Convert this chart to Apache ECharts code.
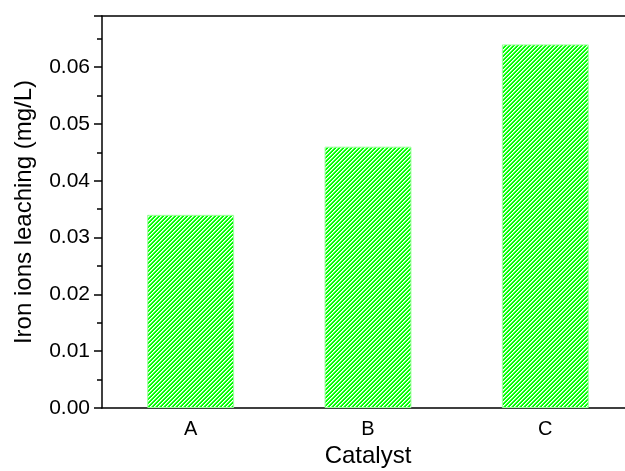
<!DOCTYPE html>
<html>
<head>
<meta charset="utf-8">
<script src="https://cdn.jsdelivr.net/npm/echarts@6/dist/echarts.min.js"></script>
<style>
html,body{margin:0;padding:0;background:#fff;}
#c{width:625px;height:471px;}
</style>
</head>
<body>
<div id="c"></div>
<script>
var categories = ['A', 'B', 'C'];
var leaching = [0.034, 0.046, 0.064];
var yTicks = [0, 0.01, 0.02, 0.03, 0.04, 0.05, 0.06];

function makePattern() {
  var cv = document.createElement('canvas');
  cv.width = 4; cv.height = 4;
  var ctx = cv.getContext('2d');
  var img = ctx.createImageData(4, 4);
  for (var y = 0; y < 4; y++) {
    for (var x = 0; x < 4; x++) {
      var k = (x + y) % 4;
      var i = (y * 4 + x) * 4;
      var c;
      if (k === 0) c = [255, 255, 255];
      else if (k === 1) c = [150, 255, 150];
      else c = [0, 255, 0];
      img.data[i] = c[0]; img.data[i + 1] = c[1]; img.data[i + 2] = c[2]; img.data[i + 3] = 255;
    }
  }
  ctx.putImageData(img, 0, 0);
  return cv;
}

var font = "'Liberation Sans', Arial, sans-serif";
var chart = echarts.init(document.getElementById('c'));
chart.setOption({
  animation: false,
  backgroundColor: '#fff',
  grid: { left: 102, top: 16, right: -9, height: 392, containLabel: false, outerBoundsMode: 'none' },
  xAxis: [
    {
      type: 'category', data: categories, position: 'bottom',
      name: 'Catalyst', nameLocation: 'middle', nameGap: 30,
      nameTextStyle: { fontFamily: font, fontSize: 24, color: '#000' },
      axisLine: { lineStyle: { color: '#000', width: 1.5 } },
      axisTick: { alignWithLabel: true, length: 8, lineStyle: { color: '#000', width: 1.5 } },
      axisLabel: { fontFamily: font, fontSize: 20, color: '#000', margin: 11 },
      splitLine: { show: false }
    },
    {
      type: 'category', data: categories, position: 'bottom', gridIndex: 0,
      axisLine: { show: false },
      axisTick: { alignWithLabel: false, length: 4, lineStyle: { color: '#000', width: 1.5 } },
      axisLabel: { show: false },
      splitLine: { show: false }
    },
    {
      type: 'category', data: categories, position: 'top',
      axisLine: { lineStyle: { color: '#000', width: 1.5 } },
      axisTick: { inside: true, length: 3, lineStyle: { color: '#000', width: 1 } },
      axisLabel: { show: false },
      splitLine: { show: false }
    }
  ],
  yAxis: [
    {
      type: 'value', min: 0, max: 0.069, interval: 0.01,
      name: 'Iron ions leaching (mg/L)', nameLocation: 'middle', nameGap: 66,
      nameTextStyle: { fontFamily: font, fontSize: 24, color: '#000' },
      axisLine: { show: true, lineStyle: { color: '#000', width: 1.5 } },
      axisTick: { show: true, length: 8, lineStyle: { color: '#000', width: 1.5 } },
      minorTick: { show: true, splitNumber: 2, length: 5, lineStyle: { color: '#000', width: 1.5 } },
      axisLabel: {
        fontFamily: font, fontSize: 21, color: '#000', margin: 12,
        formatter: function (v) {
          for (var i = 0; i < yTicks.length; i++) {
            if (Math.abs(yTicks[i] - v) < 1e-9) return yTicks[i].toFixed(2);
          }
          return '';
        }
      },
      splitLine: { show: false }
    }
  ],
  series: [
    {
      type: 'bar', data: leaching, barWidth: '49%', xAxisIndex: 0,
      itemStyle: {
        color: { image: makePattern(), repeat: 'repeat' },
        borderColor: '#9dff9d', borderWidth: 1
      }
    }
  ]
});
</script>
</body>
</html>
